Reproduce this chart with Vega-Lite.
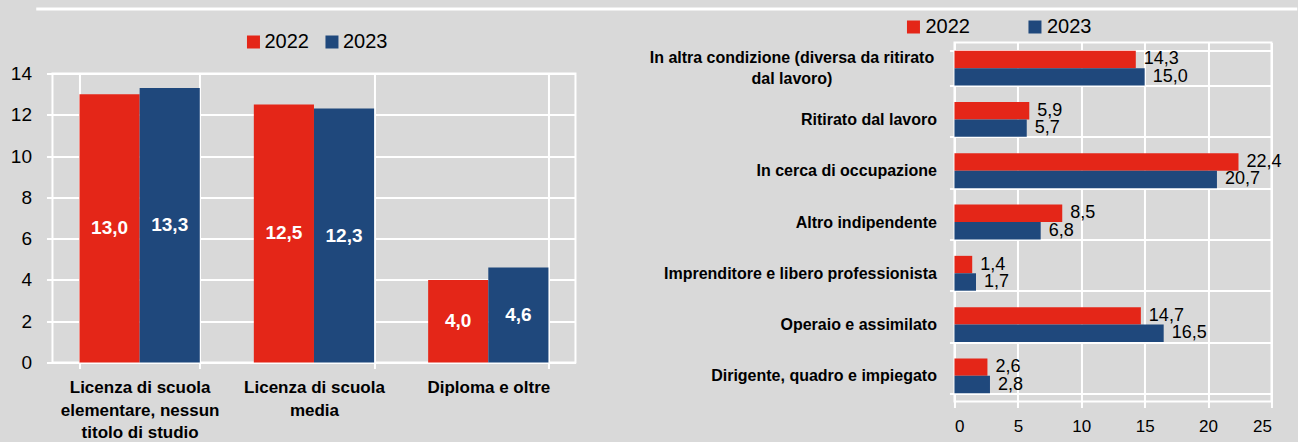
{
  "$schema": "https://vega.github.io/schema/vega-lite/v6.json",
  "background": "#d9d9d9",
  "padding": {"left": 9, "top": 7, "right": 0, "bottom": 0},
  "config": {
    "font": "Liberation Sans",
    "view": {"stroke": "white", "strokeWidth": 2},
    "locale": {"number": {"decimal": ",", "thousands": ".", "grouping": [3], "currency": ["", " €"]}},
    "axis": {
      "domain": false,
      "gridColor": "white", "gridWidth": 2, "gridOpacity": 1,
      "tickColor": "white", "tickWidth": 2, "tickSize": 6,
      "labelColor": "black", "labelFont": "Liberation Sans",
      "title": null
    },
    "legend": {"labelFont": "Liberation Sans", "labelColor": "black"}
  },
  "spacing": 4.5,
  "center": true,
  "vconcat": [
    {
      "width": 1261,
      "height": 1,
      "view": {"stroke": null},
      "data": {"values": [{"v": 1}]},
      "mark": {"type": "rule", "color": "white", "strokeWidth": 3},
      "encoding": {
        "y": {"field": "v", "type": "quantitative", "axis": null, "scale": {"domain": [0, 1]}}
      }
    },
    {
      "spacing": 71,
      "resolve": {"legend": {"color": "independent"}},
      "hconcat": [
        {
          "bounds": "flush",
          "spacing": 0,
          "resolve": {"legend": {"color": "independent"}},
          "vconcat": [
            {
              "width": 523,
              "height": 31,
              "view": {"stroke": null},
              "data": {"values": []},
              "mark": {"type": "rule"},
              "encoding": {}
            },
            {
              "width": 523,
              "height": 289,
              "data": {"values": [
                {"cat": "Licenza di scuola elementare, nessun titolo di studio", "year": "2022", "value": 13.0},
                {"cat": "Licenza di scuola elementare, nessun titolo di studio", "year": "2023", "value": 13.3},
                {"cat": "Licenza di scuola media", "year": "2022", "value": 12.5},
                {"cat": "Licenza di scuola media", "year": "2023", "value": 12.3},
                {"cat": "Diploma e oltre", "year": "2022", "value": 4.0},
                {"cat": "Diploma e oltre", "year": "2023", "value": 4.6}
              ]},
              "encoding": {
                "x": {
                  "field": "cat", "type": "nominal", "sort": null,
                  "scale": {"paddingInner": 0.31, "paddingOuter": 0.155},
                  "axis": {
                    "labelAngle": 0, "tickBand": "extent", "grid": true,
                    "labelFontSize": 17, "labelFontWeight": "bold", "labelPadding": 11,
                    "labelLineHeight": 22.5, "labelBaseline": "top", "labelLimit": 300,
                    "labelExpr": "datum.value == 'Licenza di scuola elementare, nessun titolo di studio' ? ['Licenza di scuola', 'elementare, nessun', 'titolo di studio'] : datum.value == 'Licenza di scuola media' ? ['Licenza di scuola', 'media'] : datum.value"
                  }
                },
                "xOffset": {"field": "year", "type": "nominal"}
              },
              "layer": [
                {
                  "mark": {"type": "bar"},
                  "encoding": {
                    "y": {
                      "field": "value", "type": "quantitative", "title": null,
                      "scale": {"domain": [0, 14]},
                      "axis": {"values": [0, 2, 4, 6, 8, 10, 12, 14], "labelFontSize": 19, "labelPadding": 15, "grid": true}
                    },
                    "color": {
                      "field": "year", "type": "nominal",
                      "scale": {"domain": ["2022", "2023"], "range": ["#e42618", "#1f487c"]},
                      "legend": {
                        "orient": "none", "legendX": 191, "legendY": -41.5,
                        "direction": "horizontal", "title": null, "symbolType": "square",
                        "symbolSize": 169, "symbolStrokeWidth": 0, "labelFontSize": 20,
                        "labelOffset": 1, "columnPadding": 12.5
                      }
                    }
                  }
                },
                {
                  "transform": [{"calculate": "datum.value / 2", "as": "mid"}],
                  "mark": {"type": "text", "color": "white", "fontWeight": "bold", "fontSize": 19, "baseline": "middle", "font": "Liberation Sans"},
                  "encoding": {
                    "y": {"field": "mid", "type": "quantitative", "title": null},
                    "text": {"field": "value", "type": "quantitative", "format": ".1f"}
                  }
                }
              ]
            }
          ]
        },
        {
          "width": 317,
          "height": 359,
          "data": {"values": [
            {"cat": "In altra condizione (diversa da ritirato dal lavoro)", "year": "2022", "value": 14.3},
            {"cat": "In altra condizione (diversa da ritirato dal lavoro)", "year": "2023", "value": 15.0},
            {"cat": "Ritirato dal lavoro", "year": "2022", "value": 5.9},
            {"cat": "Ritirato dal lavoro", "year": "2023", "value": 5.7},
            {"cat": "In cerca di occupazione", "year": "2022", "value": 22.4},
            {"cat": "In cerca di occupazione", "year": "2023", "value": 20.7},
            {"cat": "Altro indipendente", "year": "2022", "value": 8.5},
            {"cat": "Altro indipendente", "year": "2023", "value": 6.8},
            {"cat": "Imprenditore e libero professionista", "year": "2022", "value": 1.4},
            {"cat": "Imprenditore e libero professionista", "year": "2023", "value": 1.7},
            {"cat": "Operaio e assimilato", "year": "2022", "value": 14.7},
            {"cat": "Operaio e assimilato", "year": "2023", "value": 16.5},
            {"cat": "Dirigente, quadro e impiegato", "year": "2022", "value": 2.6},
            {"cat": "Dirigente, quadro e impiegato", "year": "2023", "value": 2.8}
          ]},
          "encoding": {
            "y": {
              "field": "cat", "type": "nominal", "sort": null,
              "scale": {"paddingInner": 0.32, "paddingOuter": 0.16},
              "axis": {
                "tickBand": "extent", "grid": true, "tickSize": 5,
                "labelFontSize": 16, "labelFontWeight": "bold",
                "labelLineHeight": 21, "labelLimit": 400,
                "labelAlign": {"condition": {"test": "datum.value == 'In altra condizione (diversa da ritirato dal lavoro)'", "value": "center"}, "value": "right"},
                "labelPadding": {"condition": {"test": "datum.value == 'In altra condizione (diversa da ritirato dal lavoro)'", "value": 158}, "value": 13},
                "labelOffset": {"condition": {"test": "datum.value == 'In altra condizione (diversa da ritirato dal lavoro)'", "value": -10.5}, "value": 0},
                "labelExpr": "datum.value == 'In altra condizione (diversa da ritirato dal lavoro)' ? ['In altra condizione (diversa da ritirato', 'dal lavoro)'] : datum.value"
              }
            },
            "yOffset": {"field": "year", "type": "nominal"},
            "x": {
              "field": "value", "type": "quantitative", "title": null,
              "scale": {"domain": [0, 25]},
              "axis": {"values": [0, 5, 10, 15, 20, 25], "labelFontSize": 17, "labelPadding": 11, "grid": true}
            }
          },
          "layer": [
            {
              "mark": {"type": "bar"},
              "encoding": {
                "color": {
                  "field": "year", "type": "nominal",
                  "scale": {"domain": ["2022", "2023"], "range": ["#e42618", "#1f487c"]},
                  "legend": {
                    "orient": "none", "legendX": -51, "legendY": -25.5,
                    "direction": "horizontal", "title": null, "symbolType": "square",
                    "symbolSize": 169, "symbolStrokeWidth": 0, "labelFontSize": 20,
                    "labelOffset": 2, "columnPadding": 54.5
                  }
                }
              }
            },
            {
              "mark": {"type": "text", "color": "black", "fontSize": 18, "align": "left", "dx": 8, "baseline": "middle", "font": "Liberation Sans"},
              "encoding": {
                "text": {"field": "value", "type": "quantitative", "format": ".1f"}
              }
            }
          ]
        }
      ]
    }
  ]
}
